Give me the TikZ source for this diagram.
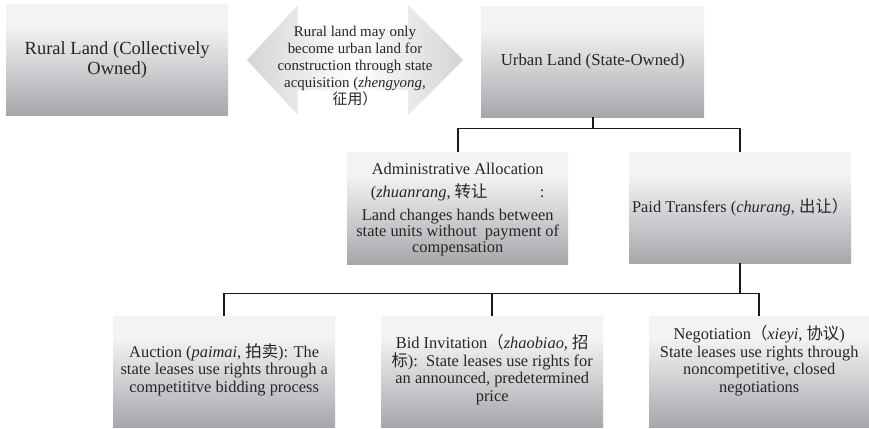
\documentclass[tikz,border=0pt]{standalone}
\usepackage{fontspec}
\setmainfont{Liberation Serif}
\newfontfamily\cjkfont{Noto Sans CJK SC}
\newcommand{\zhtext}[1]{{\cjkfont #1}}
\definecolor{boxlight}{RGB}{242,243,245}
\definecolor{boxdark}{RGB}{166,167,170}
\definecolor{arrowgray}{RGB}{212,212,213}
\pgfdeclareverticalshading{boxgrad}{100bp}{color(0bp)=(boxdark); color(25bp)=(boxdark); color(65bp)=(boxlight); color(100bp)=(boxlight)}
\pgfdeclarehorizontalshading{arrowgrad}{100bp}{color(0bp)=(arrowgray); color(25bp)=(arrowgray); color(50bp)=(white); color(75bp)=(arrowgray); color(100bp)=(arrowgray)}
\tikzset{
  gbox/.style={rectangle, shading=boxgrad, draw=none, inner sep=0pt, anchor=north west},
  txt/.style={align=center, inner sep=0pt, text=black!85, font=\fontsize{16.4}{17.5}\selectfont},
  conn/.style={draw=black!90, line width=1.6pt}
}
\begin{document}
\begin{tikzpicture}[x=1pt,y=-1pt]
\useasboundingbox (0,0) rectangle (869,428);
\fill[white] (0,0) rectangle (869,428);

% boxes
\node[gbox, minimum width=222pt, minimum height=111pt] (rural) at (6,4) {};
\node[gbox, minimum width=223pt, minimum height=111pt] (urban) at (481,6) {};
\node[gbox, minimum width=221pt, minimum height=112pt] (admin) at (347,152) {};
\node[gbox, minimum width=222pt, minimum height=111pt] (paid) at (629,152) {};
\node[gbox, minimum width=222pt, minimum height=111pt] (auction) at (113,316) {};
\node[gbox, minimum width=222pt, minimum height=111pt] (bid) at (381,316) {};
\node[gbox, minimum width=220pt, minimum height=111pt] (neg) at (649,316) {};

% double arrow
\shade[shading=arrowgrad] (247,60) -- (298,5) -- (298,30) -- (408,30) -- (408,5) -- (463,60)
  -- (408,115) -- (408,90) -- (298,90) -- (298,115) -- cycle;
\coordinate (arrowc) at (355,66);
\node[txt, font=\fontsize{14.9}{16.8}\selectfont] (arrowt) at (arrowc)
  {Rural land may only\\ become urban land for\\ construction through state\\ acquisition (\textit{zhengyong},\\ \zhtext{征用）}\hspace{0.6em}};

% texts
\node[txt, font=\fontsize{18.5}{20}\selectfont] (ruralt) at (rural.center) {Rural Land (Collectively\\ Owned)};
\node[txt, font=\fontsize{16.8}{18}\selectfont] (urbant) at (urban.center) {Urban Land (State-Owned)};
\node[txt, anchor=north, font=\fontsize{16.4}{16}\selectfont] (admint) at ([yshift=-11pt]admin.north) {Administrative Allocation\\[7pt] (\textit{zhuanrang}, \zhtext{转让}\hspace{3.2em}:\\[7pt] Land changes hands between\\ state units without\ \ payment of\\ compensation};
\node[txt] (paidt) at (paid.center) {Paid Transfers (\textit{churang}, \zhtext{出让）}};
\node[txt] (auctiont) at ([yshift=2pt]auction.center) {Auction (\textit{paimai}, \zhtext{拍卖}): The\\ state leases use rights through a\\ competititve bidding process};
\node[txt] (bidt) at ([yshift=2pt]bid.center) {Bid Invitation\zhtext{（}\textit{zhaobiao,} \zhtext{招}\\ \zhtext{标}):\ \ State leases use rights for\\ an announced, predetermined\\ price};
\node[txt] (negt) at ([yshift=11pt]neg.center) {Negotiation\zhtext{（}\textit{xieyi}, \zhtext{协议})\\ State leases use rights through\\ noncompetitive, closed\\ negotiations};

% connectors
\draw[conn] (urban.south) -- ++(0,11) -| (admin.north);
\draw[conn] (urban.south) -- ++(0,11) -| (paid.north);
\draw[conn] (paid.south) -- ++(0,30) -| (auction.north);
\draw[conn] (paid.south) -- ++(0,30) -| (bid.north);
\draw[conn] (paid.south) -- ++(0,30) -| (neg.north);
\end{tikzpicture}
\end{document}
